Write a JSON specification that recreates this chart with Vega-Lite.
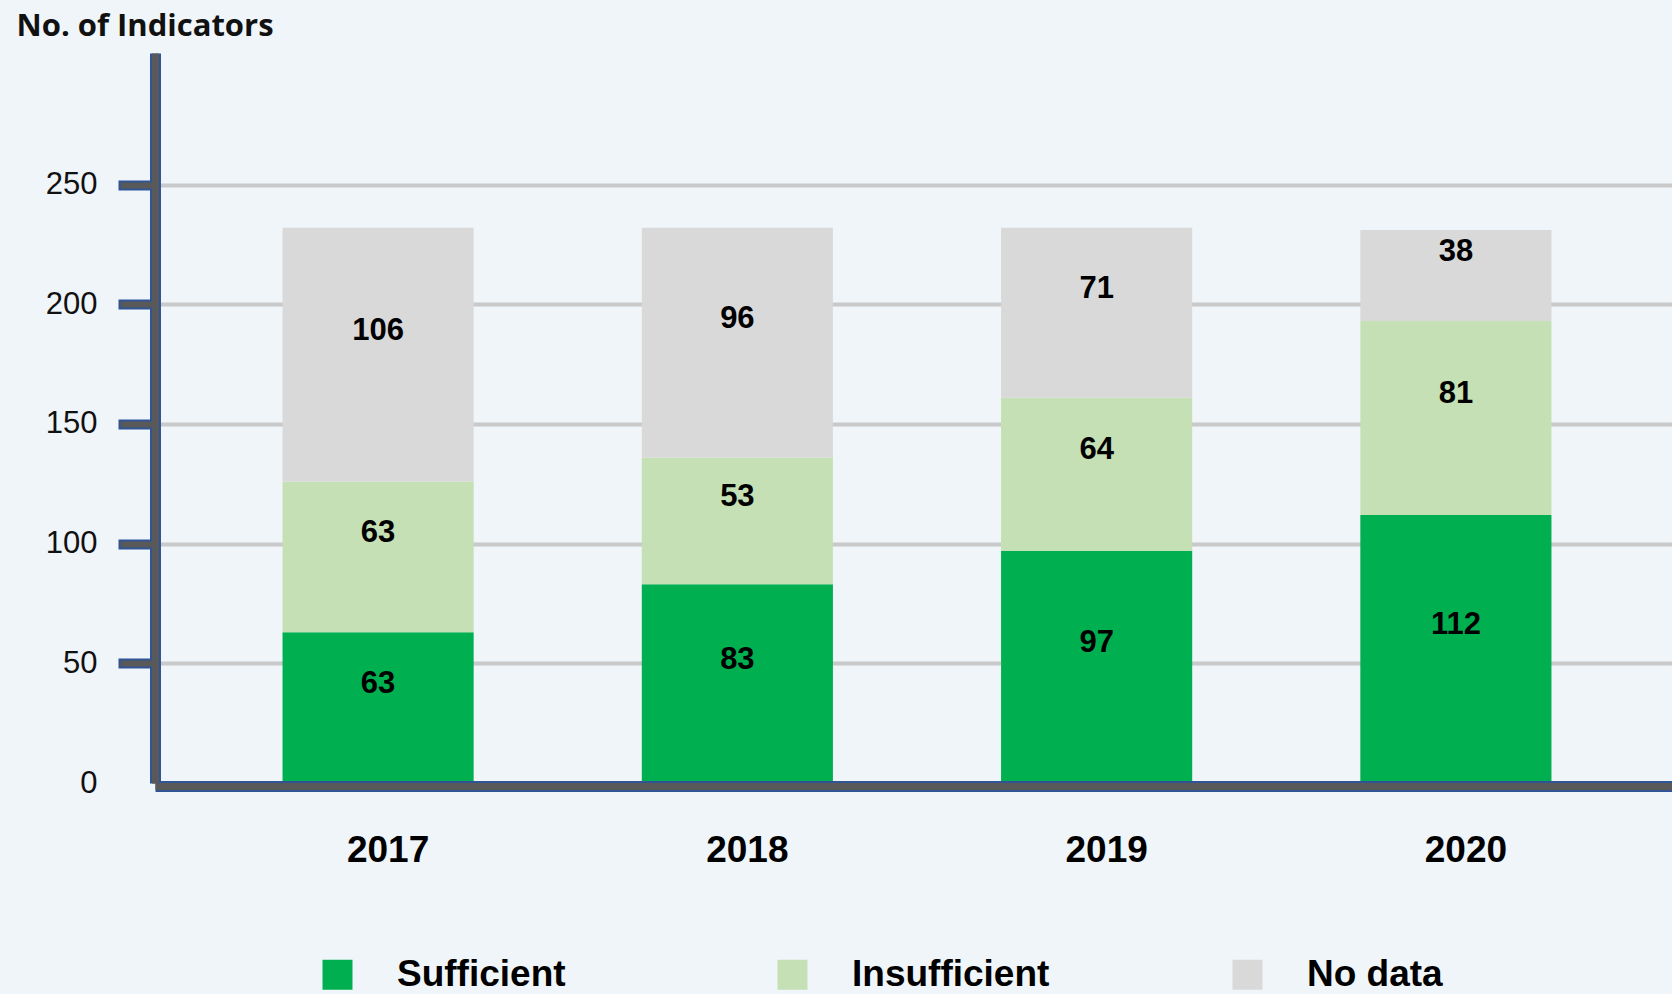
{
  "$schema": "https://vega.github.io/schema/vega-lite/v6.json",
  "width": 1524,
  "height": 730,
  "autosize": {"type": "none"},
  "padding": {"left": 155, "top": 53, "right": -7, "bottom": 211},
  "background": "#EFF5F9",
  "config": {"view": {"stroke": null}, "font": "Liberation Sans"},
  "data": {
    "values": [
      {"year": "2017", "status": "Sufficient", "count": 63},
      {"year": "2017", "status": "Insufficient", "count": 63},
      {"year": "2017", "status": "No data", "count": 106},
      {"year": "2018", "status": "Sufficient", "count": 83},
      {"year": "2018", "status": "Insufficient", "count": 53},
      {"year": "2018", "status": "No data", "count": 96},
      {"year": "2019", "status": "Sufficient", "count": 97},
      {"year": "2019", "status": "Insufficient", "count": 64},
      {"year": "2019", "status": "No data", "count": 71},
      {"year": "2020", "status": "Sufficient", "count": 112},
      {"year": "2020", "status": "Insufficient", "count": 81},
      {"year": "2020", "status": "No data", "count": 38}
    ]
  },
  "transform": [
    {"stack": "count", "groupby": ["year"], "as": ["v0", "v1"]}
  ],
  "layer": [
    {
      "mark": {"type": "bar"},
      "encoding": {
        "x": {
          "field": "year",
          "type": "ordinal",
          "scale": {"paddingInner": 0.468, "paddingOuter": 0.355},
          "axis": {
            "orient": "bottom",
            "title": null,
            "domainColor": "#2F5597",
            "domainWidth": 11,
            "ticks": false,
            "tickSize": 0,
            "offset": 3,
            "labelAngle": 0,
            "labelFont": "Liberation Sans",
            "labelFontSize": 37,
            "labelFontWeight": "bold",
            "labelColor": "#000000",
            "labelPadding": 46,
            "labelOffset": 10,
            "zindex": 1
          }
        },
        "y": {
          "field": "v0",
          "type": "quantitative",
          "scale": {"domain": [0, 305], "nice": false},
          "axis": {
            "orient": "left",
            "values": [0, 50, 100, 150, 200, 250],
            "domainColor": "#2F5597",
            "domainWidth": 11,
            "tickColor": {"condition": {"test": "datum.value === 0", "value": "transparent"}, "value": "#2F5597"},
            "tickWidth": 10,
            "tickSize": 37,
            "labelFont": "Liberation Sans",
            "labelFontSize": 31,
            "labelColor": "#111111",
            "labelPadding": 21,
            "grid": true,
            "gridColor": {"condition": {"test": "datum.value === 0", "value": "transparent"}, "value": "#C9C9C9"},
            "gridWidth": 4,
            "title": "No. of Indicators",
            "titleAngle": 0,
            "titleAlign": "left",
            "titleBaseline": "alphabetic",
            "titleX": -139,
            "titleY": -18,
            "titleFont": "Open Sans",
            "titleFontSize": 31,
            "titleFontWeight": "bold",
            "titleColor": "#111111"
          }
        },
        "y2": {"field": "v1"},
        "color": {
          "field": "status",
          "type": "nominal",
          "scale": {
            "domain": ["Sufficient", "Insufficient", "No data"],
            "range": ["#00B050", "#C5E0B4", "#D9D9D9"]
          },
          "legend": {
            "orient": "none",
            "legendX": 164,
            "legendY": 903,
            "direction": "horizontal",
            "columns": 3,
            "gridAlign": "all",
            "columnPadding": 179,
            "symbolType": "square",
            "symbolSize": 900,
            "symbolStrokeWidth": 0,
            "symbolOpacity": 1,
            "labelFont": "Liberation Sans",
            "labelFontSize": 37,
            "labelFontWeight": "bold",
            "labelColor": "#000000",
            "labelOffset": 41,
            "labelLimit": 400,
            "title": null,
            "padding": 0
          }
        }
      }
    },
    {
      "transform": [{"fold": ["v0", "v1"], "as": ["edge", "pos"]}],
      "mark": {"type": "text", "font": "Liberation Sans", "fontSize": 31, "fontWeight": "bold", "color": "#000000", "dy": -24},
      "encoding": {
        "x": {
          "field": "year",
          "type": "ordinal",
          "axis": {
            "orient": "bottom",
            "title": null,
            "labels": false,
            "ticks": false,
            "tickSize": 0,
            "domainColor": "#595959",
            "domainWidth": 7,
            "offset": 3,
            "grid": false,
            "zindex": 2
          }
        },
        "y": {
          "aggregate": "mean",
          "field": "pos",
          "type": "quantitative",
          "stack": null,
          "axis": {
            "orient": "left",
            "values": [50, 100, 150, 200, 250],
            "title": null,
            "labels": false,
            "grid": false,
            "domainColor": "#595959",
            "domainWidth": 7,
            "tickColor": "#595959",
            "tickWidth": 6,
            "tickSize": 35,
            "zindex": 2
          }
        },
        "detail": {"field": "status", "type": "nominal"},
        "text": {"field": "count", "type": "quantitative"}
      }
    }
  ],
  "resolve": {"axis": {"x": "independent", "y": "independent"}}
}
